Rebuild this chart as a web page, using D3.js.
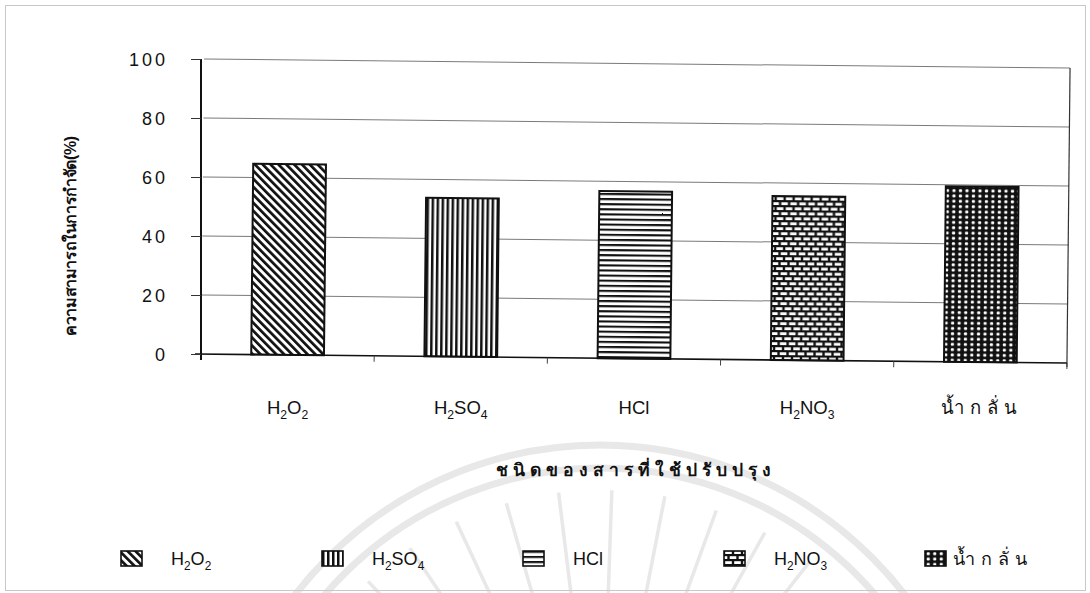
<!DOCTYPE html>
<html>
<head>
<meta charset="utf-8">
<script src="https://cdn.jsdelivr.net/npm/d3@7"></script>
<style>
  html, body { margin: 0; padding: 0; background: #fff; }
  svg { display: block; }
  text { font-family: "Liberation Sans", Arial, sans-serif; fill: #111; }
</style>
</head>
<body>
<svg id="chart" width="1090" height="593"></svg>
<script>
// Removal capacity (%) by treatment agent
const categories = ["H2O2", "H2SO4", "HCl", "H2NO3", "น้ำกลั่น"];
const removal = [64.7, 53.8, 56.7, 55.6, 59.5];
const yTicks = [0, 20, 40, 60, 80, 100];
const patternIds = ["pDiag", "pVert", "pHoriz", "pBrick", "pDots"];
const yTitle = "ความสามารถในการกำจัด(%)";
const xTitle = "ชนิดของสารที่ใช้ปรับปรุง";

const svg = d3.select("#chart");
const W = 1090, H = 593;
const plot = { left: 201, right: 1067, top: 59, bottom: 354 };

// Faint seal watermark behind the lower part of the page
const wm = svg.append("g").attr("fill", "none").attr("stroke", "#e8e8e8");
const wmC = [600, 830];
[385, 362].forEach(r => wm.append("circle").attr("cx", wmC[0]).attr("cy", wmC[1]).attr("r", r).attr("stroke-width", 7));
d3.range(-160, -19, 9).forEach(a => {
  const t = a * Math.PI / 180;
  wm.append("line")
    .attr("x1", wmC[0] + 170 * Math.cos(t)).attr("y1", wmC[1] + 170 * Math.sin(t))
    .attr("x2", wmC[0] + 340 * Math.cos(t)).attr("y2", wmC[1] + 340 * Math.sin(t))
    .attr("stroke-width", 3.5);
});

// Page frame
svg.append("rect").attr("x", 5.5).attr("y", 5.5).attr("width", W - 10).attr("height", H - 8)
  .attr("fill", "none").attr("stroke", "#c8c8c8").attr("stroke-width", 1);

// Fill patterns
const defs = svg.append("defs");
function pat(id, w, h, extra) {
  const p = defs.append("pattern").attr("id", id).attr("patternUnits", "userSpaceOnUse")
    .attr("width", w).attr("height", h);
  if (extra) p.attr("patternTransform", extra);
  return p;
}
let p = pat("pDiag", 5.6, 5.6, "rotate(-45)");
p.append("rect").attr("width", 5.6).attr("height", 5.6).attr("fill", "#fff");
p.append("rect").attr("width", 2.7).attr("height", 5.6).attr("fill", "#111");

p = pat("pVert", 5, 5);
p.append("rect").attr("width", 5).attr("height", 5).attr("fill", "#fff");
p.append("rect").attr("width", 2.5).attr("height", 5).attr("fill", "#111");

p = pat("pHoriz", 5, 5.1);
p.append("rect").attr("width", 5).attr("height", 5.1).attr("fill", "#fff");
p.append("rect").attr("width", 5).attr("height", 2.1).attr("fill", "#111");

p = pat("pBrick", 9, 10);
p.append("rect").attr("width", 9).attr("height", 10).attr("fill", "#111");
p.append("rect").attr("x", 1.2).attr("y", 1.2).attr("width", 6.6).attr("height", 2.8).attr("fill", "#fff");
p.append("rect").attr("x", -3.3).attr("y", 6.2).attr("width", 6.6).attr("height", 2.8).attr("fill", "#fff");
p.append("rect").attr("x", 5.7).attr("y", 6.2).attr("width", 6.6).attr("height", 2.8).attr("fill", "#fff");

p = pat("pDots", 6.5, 5.3);
p.append("rect").attr("width", 6.5).attr("height", 5.3).attr("fill", "#111");
p.append("rect").attr("x", 1.7).attr("y", 1.1).attr("width", 3.1).attr("height", 2.9).attr("rx", 1).attr("fill", "#fff");

// Scales
const x = d3.scaleBand().domain(categories).range([plot.left, plot.right])
  .paddingInner(0.58).paddingOuter(0.29);
const y = d3.scaleLinear().domain([0, 100]).range([plot.bottom, plot.top]);

// Plot area (slightly skewed as printed)
const g = svg.append("g").attr("transform", `rotate(0.6, ${plot.left}, ${plot.bottom})`);

g.append("g").selectAll("line").data(yTicks.filter(d => d > 0)).join("line")
  .attr("x1", plot.left).attr("x2", plot.right)
  .attr("y1", d => y(d)).attr("y2", d => y(d))
  .attr("stroke", "#7a7a7a").attr("stroke-width", 1);

g.append("line").attr("x1", plot.right).attr("x2", plot.right)
  .attr("y1", plot.top).attr("y2", plot.bottom + 4)
  .attr("stroke", "#333").attr("stroke-width", 1.2);

g.append("g").selectAll("rect").data(categories).join("rect")
  .attr("x", d => x(d))
  .attr("width", x.bandwidth())
  .attr("y", (d, i) => y(removal[i]))
  .attr("height", (d, i) => y(0) - y(removal[i]))
  .attr("fill", (d, i) => `url(#${patternIds[i]})`)
  .attr("stroke", "#111").attr("stroke-width", 2);

// Bottom axis with ticks between categories
const xAxisG = g.append("g").attr("transform", `translate(0,${plot.bottom})`);
xAxisG.append("line").attr("x1", plot.left - 6).attr("x2", plot.right)
  .attr("stroke", "#111").attr("stroke-width", 1.6);
xAxisG.selectAll("line.tk").data(d3.range(categories.length + 1)).join("line").attr("class", "tk")
  .attr("x1", i => plot.left + i * x.step()).attr("x2", i => plot.left + i * x.step())
  .attr("y1", 0).attr("y2", 6).attr("stroke", "#444").attr("stroke-width", 1);

// Left axis
const yAxis = d3.axisLeft(y).tickValues(yTicks).tickSize(10).tickFormat("");
const yAxisG = svg.append("g").attr("transform", `translate(${plot.left},0)`).call(yAxis);
yAxisG.select(".domain").attr("stroke", "#111").attr("stroke-width", 2)
  .attr("d", `M0,${plot.top}V${plot.bottom + 6}`);
yAxisG.selectAll(".tick line").attr("stroke", "#333").attr("stroke-width", 1);

svg.append("g").selectAll("text").data(yTicks).join("text")
  .attr("x", 168).attr("y", d => y(d) + 6.5)
  .attr("text-anchor", "end").attr("font-size", 18).attr("letter-spacing", 3)
  .text(d => d);

// Category labels with chemical subscripts
function chemLabel(sel, name, size) {
  const parts = name.match(/[A-Za-z]+|\d+|[^A-Za-z\d]+/g);
  let lowered = false;
  parts.forEach(part => {
    const t = sel.append("tspan");
    if (/^\d+$/.test(part)) {
      t.attr("font-size", size * 0.66).attr("dy", lowered ? 0 : 5).text(part);
      lowered = true;
    } else {
      t.attr("font-size", size).text(part);
      if (lowered) { t.attr("dy", -5); lowered = false; }
      if (!/[A-Za-z]/.test(part)) t.attr("letter-spacing", 6);
    }
  });
}
svg.append("g").selectAll("text").data(categories).join("text")
  .attr("x", d => x(d) + x.bandwidth() / 2 + (d === "น้ำกลั่น" ? 2 : 0))
  .attr("y", 414).attr("text-anchor", "middle")
  .each(function (d) { chemLabel(d3.select(this), d, 18.5); });

// Axis titles
svg.append("text").attr("transform", "translate(76,236) rotate(-90)")
  .attr("text-anchor", "middle").attr("font-size", 16).attr("font-weight", "bold")
  .attr("letter-spacing", -0.4).text(yTitle);
svg.append("text").attr("x", 636).attr("y", 476).attr("text-anchor", "middle")
  .attr("font-size", 17.5).attr("font-weight", "bold").attr("letter-spacing", 5).text(xTitle);

// Legend
const lg = svg.append("g").selectAll("g").data(categories).join("g")
  .attr("transform", (d, i) => `translate(${121 + i * 201},0)`);
lg.append("rect").attr("x", 0).attr("y", 551).attr("width", 21).attr("height", 15)
  .attr("fill", (d, i) => `url(#${patternIds[i]})`).attr("stroke", "#111").attr("stroke-width", 1.6);
lg.append("text").attr("x", (d, i) => i === 4 ? 28 : 50).attr("y", 565)
  .each(function (d) { chemLabel(d3.select(this), d, 18); });
</script>
</body>
</html>
